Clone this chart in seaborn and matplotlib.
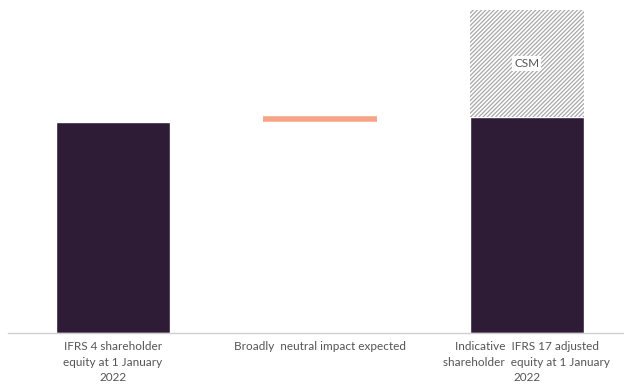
import matplotlib
matplotlib.use("Agg")
import matplotlib.pyplot as plt
import seaborn as sns
import pandas as pd
import numpy as np

categories = [
    "IFRS 4 shareholder\nequity at 1 January\n2022",
    "Broadly  neutral impact expected",
    "Indicative  IFRS 17 adjusted\nshareholder  equity at 1 January\n2022",
]
equity = [211, 0, 216]
neutral_level = 214
csm = [0, 0, 107]

sns.set_theme(style="white")
plt.rcParams['font.family'] = ['Lato', 'DejaVu Sans']

fig = plt.figure(figsize=(6.24, 3.88), dpi=100)
ax = fig.add_axes([8/624, 55/388, 616/624, 333/388])

dark = "#2e1b36"
w = 0.55
df = pd.DataFrame({"cat": categories, "equity": equity})
sns.barplot(data=df, x="cat", y="equity", color=dark, width=w, saturation=1, ax=ax)

x = np.arange(len(categories))
csm_arr = np.array(csm, dtype=float)
mask = csm_arr > 0
plt.rcParams['hatch.color'] = '#a8a8a8'
plt.rcParams['hatch.linewidth'] = 0.9
ax.bar(x[mask], csm_arr[mask], bottom=np.array(equity)[mask], width=w,
       color="white", edgecolor="#a8a8a8", hatch="////////", linewidth=0)
for xi, b, h in zip(x[mask], np.array(equity)[mask], csm_arr[mask]):
    ax.text(xi, b + h * 0.5, "CSM", ha="center", va="center", fontsize=8.5,
            color="#555555", bbox=dict(facecolor="white", edgecolor="none", pad=1.5))

ax.hlines(neutral_level, 1 - w / 2, 1 + w / 2, color="#f7a486", linewidth=4)

ax.set_xlim(-0.507, 2.47)
ax.set_ylim(0, 333)
ax.set_xlabel("")
ax.set_ylabel("")
ax.set_yticks([])
ax.tick_params(axis="x", length=0, pad=6, labelsize=8.5, labelcolor="#555555")
for s in ["top", "right", "left"]:
    ax.spines[s].set_visible(False)
ax.spines["bottom"].set_color("#cfcfcf")
ax.spines["bottom"].set_linewidth(1)
for t in ax.get_xticklabels():
    t.set_linespacing(1.5)

fig.savefig("out.png", dpi=100)
